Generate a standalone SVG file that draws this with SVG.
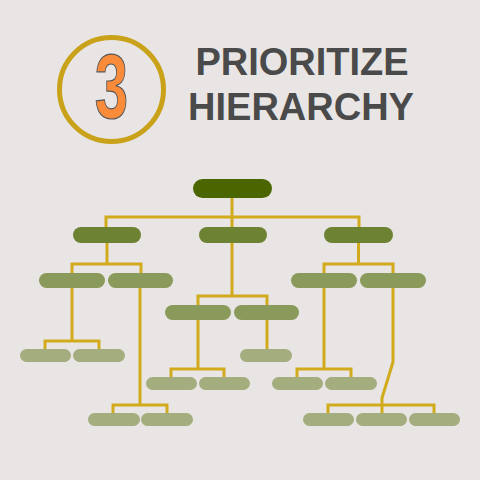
<svg xmlns="http://www.w3.org/2000/svg" width="480" height="480" viewBox="0 0 480 480">
<style>
.l{fill:none;stroke:#d1ab1c;stroke-width:3}
.n0{fill:#4b6600}
.n1{fill:#6e8234}
.n2{fill:#8a9a5a}
.n3{fill:#a4ad7d}
.t{font-family:"Liberation Sans",Arial,sans-serif;font-weight:bold;font-size:38px;fill:#4a4a4a;text-anchor:middle}
</style>
<rect width="480" height="480" fill="#e8e5e4"/>
<g id="badge">
<circle cx="111.5" cy="89.5" r="52" fill="none" stroke="#c9a21a" stroke-width="5"/>
<text transform="translate(111.5,118) scale(0.66,1)" font-family="Liberation Sans,Arial,sans-serif" font-weight="bold" font-size="91" fill="#f98b3b" stroke="#555" stroke-width="1.2" text-anchor="middle">3</text>
</g>
<g id="title">
<text class="t" x="302" y="75">PRIORITIZE</text>
<text class="t" x="301" y="120">HIERARCHY</text>
</g>
<g id="connectors">
<path class="l" d="M232 198V217M106 227V217H359V227M232 217V227"/>
<path class="l" d="M107 243V264M72 273V264H141V273"/>
<path class="l" d="M232 243V296M198 305V296H267V305"/>
<path class="l" d="M358.5 243V264M324 273V264H393V273"/>
<path class="l" d="M72 288V341M45 349V341H99V349"/>
<path class="l" d="M140 288V405M113 413V405H167V413"/>
<path class="l" d="M198 320V369M171 377V369H224V377"/>
<path class="l" d="M267 320V349"/>
<path class="l" d="M324 288V369M297 377V369H351V377"/>
<path class="l" d="M393 288V362L382 398V413M328 413V405H434V413"/>
</g>
<g id="root"><rect class="n0" x="193" y="179" width="79" height="19" rx="9.5"/></g>
<g id="a"><rect class="n1" x="73" y="227" width="68" height="16" rx="8"/></g>
<g id="b"><rect class="n1" x="199" y="227" width="68" height="16" rx="8"/></g>
<g id="c"><rect class="n1" x="324" y="227" width="69" height="16" rx="8"/></g>
<g id="a1"><rect class="n2" x="39" y="273" width="66" height="15" rx="7.5"/></g>
<g id="a2"><rect class="n2" x="108" y="273" width="65" height="15" rx="7.5"/></g>
<g id="b1"><rect class="n2" x="165" y="305" width="66" height="15" rx="7.5"/></g>
<g id="b2"><rect class="n2" x="234" y="305" width="65" height="15" rx="7.5"/></g>
<g id="c1"><rect class="n2" x="291" y="273" width="66" height="15" rx="7.5"/></g>
<g id="c2"><rect class="n2" x="360" y="273" width="66" height="15" rx="7.5"/></g>
<g id="a1a"><rect class="n3" x="20" y="349" width="51" height="13" rx="6.5"/></g>
<g id="a1b"><rect class="n3" x="73" y="349" width="52" height="13" rx="6.5"/></g>
<g id="a2a"><rect class="n3" x="88" y="413" width="52" height="13" rx="6.5"/></g>
<g id="a2b"><rect class="n3" x="141" y="413" width="52" height="13" rx="6.5"/></g>
<g id="b1a"><rect class="n3" x="146" y="377" width="51" height="13" rx="6.5"/></g>
<g id="b1b"><rect class="n3" x="199" y="377" width="51" height="13" rx="6.5"/></g>
<g id="b2a"><rect class="n3" x="240" y="349" width="52" height="13" rx="6.5"/></g>
<g id="c1a"><rect class="n3" x="272" y="377" width="51" height="13" rx="6.5"/></g>
<g id="c1b"><rect class="n3" x="325" y="377" width="52" height="13" rx="6.5"/></g>
<g id="c2a"><rect class="n3" x="303" y="413" width="51" height="13" rx="6.5"/></g>
<g id="c2b"><rect class="n3" x="356" y="413" width="51" height="13" rx="6.5"/></g>
<g id="c2c"><rect class="n3" x="409" y="413" width="51" height="13" rx="6.5"/></g>
</svg>
